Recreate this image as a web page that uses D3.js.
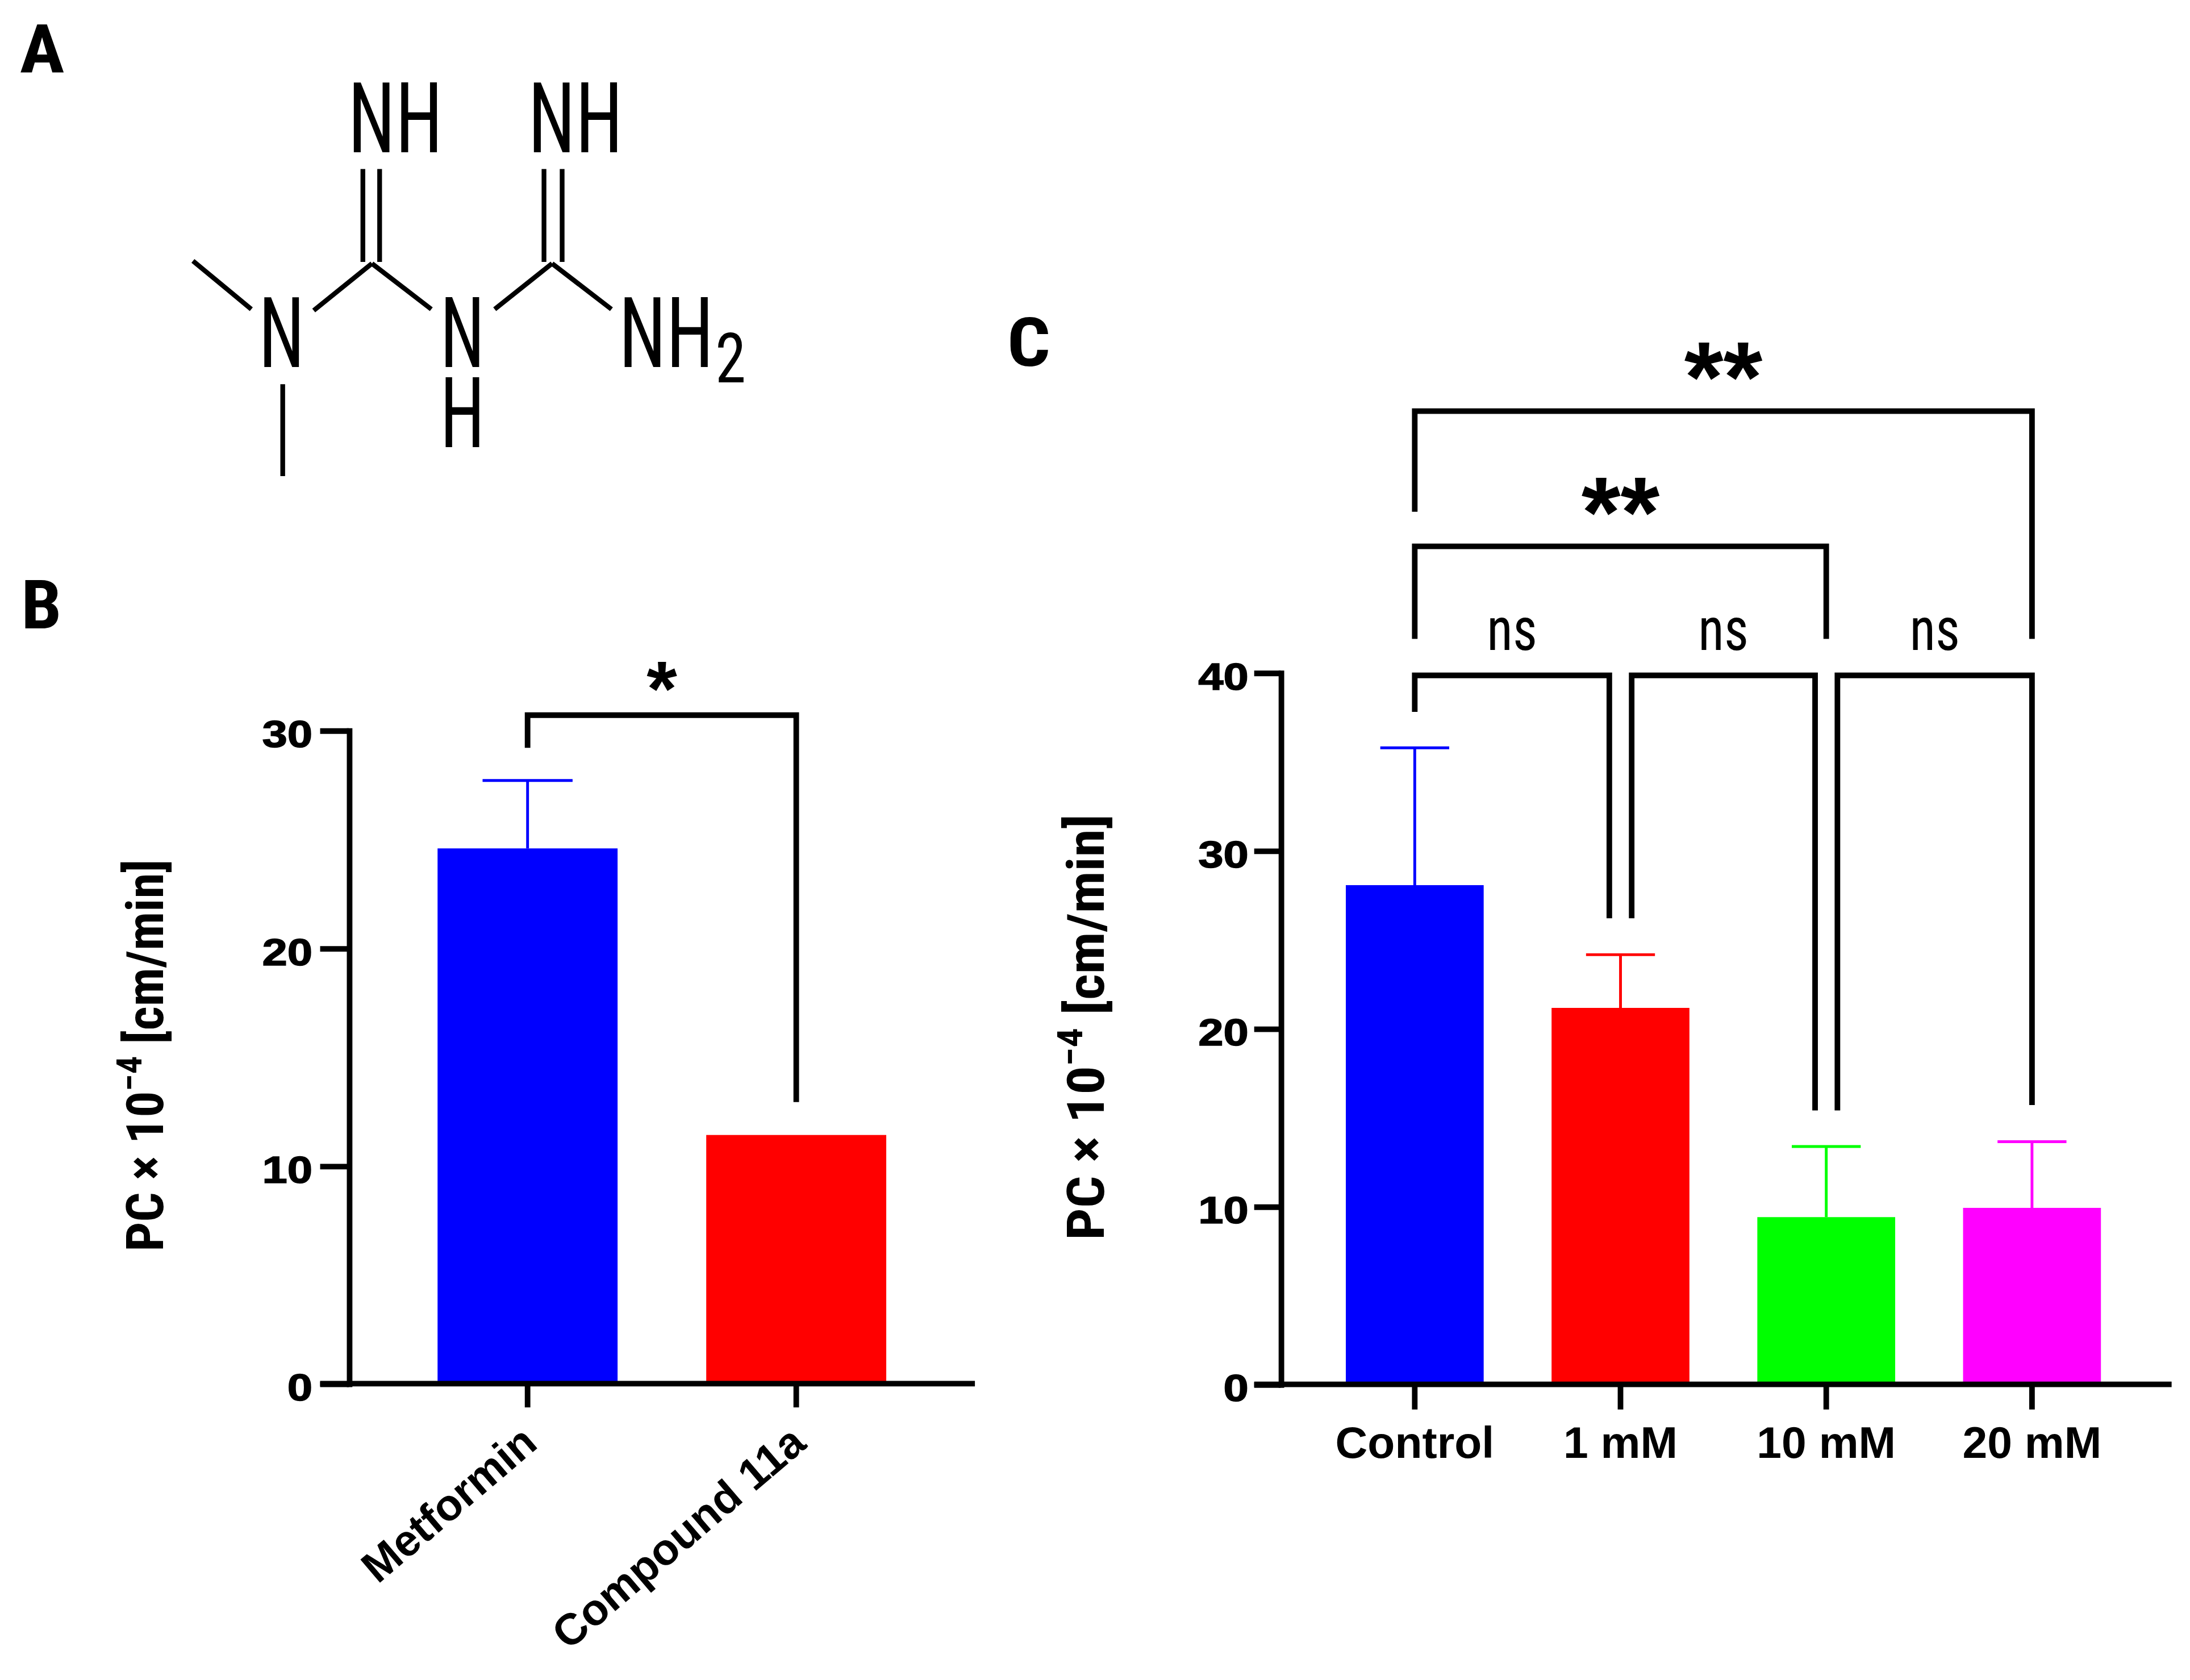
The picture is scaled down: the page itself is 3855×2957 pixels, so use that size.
<!DOCTYPE html>
<html>
<head>
<meta charset="utf-8">
<script src="https://cdn.jsdelivr.net/npm/d3@7"></script>
<style>
  html, body { margin: 0; padding: 0; background: #fff; }
  svg { display: block; }
</style>
</head>
<body>
<script>
// Panel B data
var bCats = ["Metformin", "Compound 11a"];
var bMeans = [24.58, 11.42];
var bErrors = [3.12, 0];
var bColors = ["#0000ff", "#ff0000"];
var bTicks = [0, 10, 20, 30];

// Panel C data
var cCats = ["Control", "1 mM", "10 mM", "20 mM"];
var cMeans = [28.06, 21.16, 9.40, 9.92];
var cErrors = [7.72, 2.99, 3.97, 3.72];
var cColors = ["#0000ff", "#ff0000", "#00ff00", "#ff00ff"];
var cTicks = [0, 10, 20, 30, 40];

// Significance brackets: category indexes, bracket level and leg ends (data units)
var bComparisons = [
    { a: 0, b: 1, top: 30.7, endA: 29.2, endB: 12.93, label: "*" }
];
var cComparisons = [
    { a: 0, b: 1, top: 39.85, endA: 37.8, endB: 26.2, label: "ns" },
    { a: 1, b: 2, top: 39.85, endA: 26.2, endB: 15.4, label: "ns" },
    { a: 2, b: 3, top: 39.85, endA: 15.4, endB: 15.7, label: "ns" },
    { a: 0, b: 2, top: 47.1, endA: 41.9, endB: 41.9, label: "**" },
    { a: 0, b: 3, top: 54.7, endA: 49.05, endB: 41.9, label: "**" }
];

// Metformin structure (drawing coordinates)
var bonds = [
    [138.0, 186.8, 179.8, 221.4],
    [202.3, 275.1, 202.3, 340.9],
    [224.5, 222.3, 266.2, 188.7],
    [266.2, 188.7, 308.7, 221.4],
    [259.7, 121.0, 259.7, 187.5],
    [271.7, 121.0, 271.7, 187.5],
    [354.1, 221.4, 395.2, 188.7],
    [395.2, 188.7, 437.7, 221.4],
    [389.4, 121.0, 389.4, 187.5],
    [402.4, 121.0, 402.4, 187.5]
];
var atoms = [
    { t: ["NH"], x: 249, y: 109, w: 68, s: 70 },
    { t: ["NH"], x: 378, y: 109, w: 68, s: 70 },
    { t: ["N"], x: 185, y: 263, w: 33, s: 70 },
    { t: ["N", "H"], x: 315, y: 263, w: 32, s: 70 },
    { t: ["NH"], x: 443, y: 263, w: 68, s: 70 },
    { t: ["2"], x: 512, y: 274, w: 22, s: 50 }
];

var BOLD = "'Liberation Sans', Arial, Helvetica, sans-serif";
var NARROW = "'Liberation Sans Narrow', 'Arial Narrow', 'Roboto Condensed', 'DejaVu Sans Condensed', 'Liberation Sans', sans-serif";

var W = 1568, H = 1203;
var svg = d3.select("body").append("svg")
    .attr("width", 3855)
    .attr("height", 2957)
    .attr("viewBox", "0 0 " + W + " " + H);

svg.append("rect").attr("width", W).attr("height", H).attr("fill", "#fff");

// squeeze / stretch a text horizontally to a given width
function fit(sel, w) {
    sel.each(function () {
        var bb = this.getBBox();
        if (bb.width > 0) d3.select(this).attr("transform", "scale(" + (w / bb.width) + ",1)");
    });
}

function panelLetter(txt, x, y, w) {
    var t = svg.append("g").attr("transform", "translate(" + x + "," + y + ")")
        .append("text")
        .attr("font-family", NARROW)
        .attr("font-weight", "bold")
        .attr("font-size", 48)
        .text(txt);
    fit(t, w);
}

panelLetter("A", 14, 51.8, 32);
panelLetter("B", 15, 450, 29);
panelLetter("C", 721, 262, 31);

// ---------- Panel A: structure ----------
var gA = svg.append("g");
gA.selectAll("line.bond")
    .data(bonds)
    .join("line")
    .attr("class", "bond")
    .attr("x1", d => d[0]).attr("y1", d => d[1])
    .attr("x2", d => d[2]).attr("y2", d => d[3])
    .attr("stroke", "#000")
    .attr("stroke-width", 3.4);

gA.selectAll("g.atom")
    .data(atoms)
    .join("g")
    .attr("class", "atom")
    .attr("transform", d => "translate(" + d.x + "," + d.y + ")")
    .each(function (d) {
        var t = d3.select(this).append("text")
            .attr("font-family", NARROW)
            .attr("font-size", d.s);
        // stacked atom labels (N over H) stay in one text
        d.t.forEach(function (line, k) {
            t.append("tspan").attr("x", 0).attr("y", k * 57).text(line);
        });
        fit(t, d.w);
    });

// ---------- shared helpers ----------
function yTitle(x, yc, len, size) {
    var t = svg.append("g")
        .attr("transform", "translate(" + x + "," + yc + ") rotate(-90)")
        .append("text")
        .attr("text-anchor", "middle")
        .attr("font-family", NARROW)
        .attr("font-weight", "bold")
        .attr("font-size", size);
    t.append("tspan").text("PC × 10");
    t.append("tspan").attr("font-size", size * 0.68).attr("dy", -size * 0.42).text("−4");
    t.append("tspan").attr("dy", size * 0.42).text(" [cm/min]");
    fit(t, len);
}

function drawBars(g, cats, means, errs, colors, x, y) {
    g.selectAll("rect.bar")
        .data(cats)
        .join("rect")
        .attr("class", "bar")
        .attr("x", d => x(d))
        .attr("width", x.bandwidth())
        .attr("y", (d, i) => y(means[i]))
        .attr("height", (d, i) => y(0) - y(means[i]))
        .attr("fill", (d, i) => colors[i]);

    var eb = g.selectAll("g.err")
        .data(cats.filter((d, i) => errs[i] > 0))
        .join("g")
        .attr("class", "err");
    eb.each(function (d) {
        var i = cats.indexOf(d);
        var cx = x(d) + x.bandwidth() / 2;
        var cap = x.bandwidth() / 4;
        var sel = d3.select(this);
        sel.append("line")
            .attr("x1", cx).attr("x2", cx)
            .attr("y1", y(means[i])).attr("y2", y(means[i] + errs[i]))
            .attr("stroke", colors[i]).attr("stroke-width", 2);
        sel.append("line")
            .attr("x1", cx - cap).attr("x2", cx + cap)
            .attr("y1", y(means[i] + errs[i])).attr("y2", y(means[i] + errs[i]))
            .attr("stroke", colors[i]).attr("stroke-width", 2);
    });
}

function styleYAxis(ax, pad) {
    ax.select(".domain").attr("stroke-width", 4).attr("stroke-linecap", "square");
    ax.selectAll(".tick line").attr("stroke-width", 4);
    ax.selectAll(".tick text")
        .attr("font-family", BOLD)
        .attr("font-weight", "bold")
        .attr("font-size", 27)
        .attr("fill", "#000")
        .attr("stroke", "#000")
        .attr("stroke-width", 0.6)
        .attr("dy", "0.43em")
        .attr("x", 0)
        .attr("transform", "translate(" + (-pad) + ",0) scale(1.2,1)");
}

function drawBrackets(g, comps, cats, x, y) {
    var gap = 8;
    comps.forEach(function (c) {
        // pull the leg in when a neighbouring bracket at the same level shares it
        var shareA = comps.some(o => o !== c && o.top === c.top && o.b === c.a);
        var shareB = comps.some(o => o !== c && o.top === c.top && o.a === c.b);
        var xa = x(cats[c.a]) + x.bandwidth() / 2 + (shareA ? gap : 0);
        var xb = x(cats[c.b]) + x.bandwidth() / 2 - (shareB ? gap : 0);
        var yt = y(c.top);
        g.append("path")
            .attr("d", "M" + xa + "," + y(c.endA) + "V" + yt + "H" + xb + "V" + y(c.endB))
            .attr("fill", "none")
            .attr("stroke", "#000")
            .attr("stroke-width", 4);
        var mid = (xa + xb) / 2;
        if (c.label === "ns") {
            var t = g.append("g").attr("transform", "translate(" + mid + "," + (yt - 18) + ")")
                .append("text")
                .attr("text-anchor", "middle")
                .attr("font-family", NARROW)
                .attr("font-size", 43)
                .text(c.label);
            fit(t, 36);
        } else {
            var fs = c.label.length > 1 ? 72 : 56;
            g.append("text")
                .attr("x", mid)
                .attr("y", yt + fs * 0.42 - (c.label.length > 1 ? 30 : 23))
                .attr("text-anchor", "middle")
                .attr("font-family", BOLD)
                .attr("font-weight", "bold")
                .attr("font-size", fs)
                .text(c.label);
        }
    });
}

// ---------- Panel B ----------
var gB = svg.append("g");
var yB = d3.scaleLinear().domain([0, 30]).range([990.8, 523]);
var xB = d3.scaleBand().domain(bCats).range([249.7, 698]).paddingInner(0.33).paddingOuter(0.33);

drawBars(gB, bCats, bMeans, bErrors, bColors, xB, yB);

var tickB = 20.6;
gB.append("line")
    .attr("x1", xB.range()[0] - tickB).attr("x2", xB.range()[1])
    .attr("y1", yB(0)).attr("y2", yB(0))
    .attr("stroke", "#000").attr("stroke-width", 4);

var axBy = gB.append("g")
    .attr("transform", "translate(" + xB.range()[0] + ",0)")
    .call(d3.axisLeft(yB).tickValues(bTicks).tickSize(tickB).tickSizeOuter(0).tickFormat(d3.format("d")));
styleYAxis(axBy, tickB + 5.5);

var axBx = gB.append("g")
    .attr("transform", "translate(0," + yB(0) + ")")
    .call(d3.axisBottom(xB).tickSize(17).tickSizeOuter(0));
axBx.select(".domain").remove();
axBx.selectAll(".tick line").attr("stroke-width", 4);
axBx.selectAll(".tick text").remove();
axBx.selectAll(".tick").append("text")
    .attr("transform", "translate(8.5,45) rotate(-40.5)")
    .attr("text-anchor", "end")
    .attr("font-family", BOLD)
    .attr("font-weight", "bold")
    .attr("font-size", 31.5)
    .attr("fill", "#000")
    .text(d => d);

drawBrackets(gB, bComparisons, bCats, xB, yB);
yTitle(116.6, 755.7, 281, 37);

// ---------- Panel C ----------
var gC = svg.append("g");
var yC = d3.scaleLinear().domain([0, 40]).range([991.3, 481.7]);
var xC = d3.scaleBand().domain(cCats).range([915, 1553]).paddingInner(0.33).paddingOuter(0.33);
var axisXC = 917;

drawBars(gC, cCats, cMeans, cErrors, cColors, xC, yC);

var tickC = 19;
gC.append("line")
    .attr("x1", axisXC - tickC).attr("x2", xC.range()[1] + 2)
    .attr("y1", yC(0)).attr("y2", yC(0))
    .attr("stroke", "#000").attr("stroke-width", 4);

var axCy = gC.append("g")
    .attr("transform", "translate(" + axisXC + ",0)")
    .call(d3.axisLeft(yC).tickValues(cTicks).tickSize(tickC).tickSizeOuter(0).tickFormat(d3.format("d")));
styleYAxis(axCy, tickC + 4);

var axCx = gC.append("g")
    .attr("transform", "translate(0," + yC(0) + ")")
    .call(d3.axisBottom(xC).tickSize(18).tickPadding(12).tickSizeOuter(0));
axCx.select(".domain").remove();
axCx.selectAll(".tick line").attr("stroke-width", 4);
axCx.selectAll(".tick text")
    .attr("font-family", BOLD)
    .attr("font-weight", "bold")
    .attr("font-size", 32)
    .attr("fill", "#000");

drawBrackets(gC, cComparisons, cCats, xC, yC);
yTitle(790.5, 735.5, 305, 37);
</script>
</body>
</html>
